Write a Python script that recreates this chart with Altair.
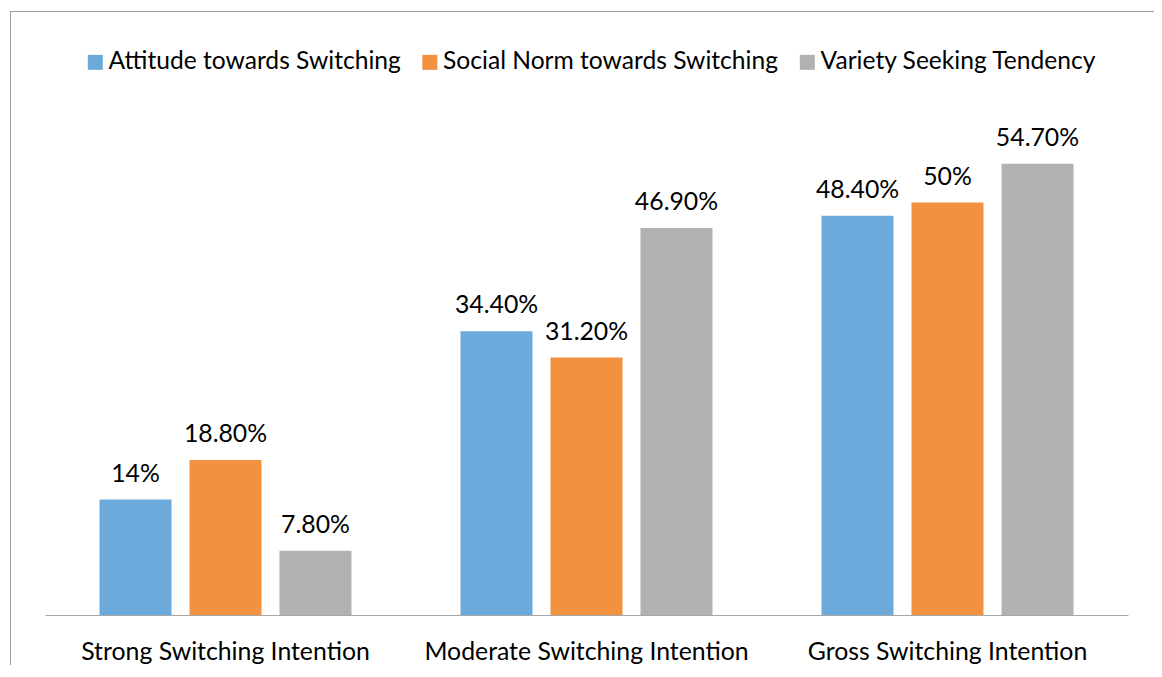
import altair as alt
import pandas as pd

categories = ["Strong Switching Intention", "Moderate Switching Intention", "Gross Switching Intention"]
series = ["Attitude towards Switching", "Social Norm towards Switching", "Variety Seeking Tendency"]
attitude = [14.0, 34.4, 48.4]
social = [18.8, 31.2, 50.0]
variety = [7.8, 46.9, 54.7]
labels_attitude = ["14%", "34.40%", "48.40%"]
labels_social = ["18.80%", "31.20%", "50%"]
labels_variety = ["7.80%", "46.90%", "54.70%"]
colors = ["#6CAADC", "#F29241", "#B2B2B2"]

rows = []
for vals, labs, s in [(attitude, labels_attitude, series[0]),
                      (social, labels_social, series[1]),
                      (variety, labels_variety, series[2])]:
    for c, v, l in zip(categories, vals, labs):
        rows.append({"category": c, "series": s, "value": v, "label": l})
df = pd.DataFrame(rows)

FONT = "Lato"

x_enc = alt.X("category:N", sort=categories,
              scale=alt.Scale(paddingInner=0, paddingOuter=0),
              axis=alt.Axis(title=None, labelAngle=0, ticks=False, tickSize=0,
                            domainColor="#a6a6a6", domainWidth=1,
                            labelFont=FONT, labelFontSize=24.8, labelColor="#000000",
                            labelBaseline="alphabetic", labelPadding=44, grid=False,
                            labelLimit=600))
xoff = alt.XOffset("series:N", sort=series,
                   scale=alt.Scale(paddingInner=0.2, paddingOuter=0.6056))
y_enc = alt.Y("value:Q", scale=alt.Scale(domain=[0, 60]), axis=None)

base = alt.Chart(df)

bars = base.mark_bar().encode(
    x=x_enc, xOffset=xoff, y=y_enc,
    color=alt.Color("series:N", sort=series,
                    scale=alt.Scale(domain=series, range=colors),
                    legend=alt.Legend(title=None, orient="none", direction="horizontal",
                                      legendX=38, legendY=-70, padding=0,
                                      symbolType="square", symbolSize=225,
                                      symbolStrokeWidth=0, symbolOpacity=1,
                                      labelFont=FONT, labelFontSize=24.6, labelColor="#000000",
                                      labelOffset=1, columnPadding=16.5, labelLimit=600))
)

text = base.mark_text(font=FONT, fontSize=24.8, color="#000000",
                      baseline="alphabetic", dy=-18).encode(
    x=x_enc, xOffset=xoff, y=y_enc, text="label:N"
)

border_df = pd.DataFrame({"a": [0]})
left_border = alt.Chart(border_df).mark_rule(color="#a0a0a0", strokeWidth=1).encode(
    x=alt.value(-34.5), y=alt.value(-109), y2=alt.value(700)
)
top_border = alt.Chart(border_df).mark_rule(color="#a0a0a0", strokeWidth=1).encode(
    x=alt.value(-34.5), x2=alt.value(1200), y=alt.value(-108.5)
)

chart = alt.layer(bars, text, left_border, top_border).properties(
    width=1083, height=495,
    autosize=alt.AutoSizeParams(type="none"),
    padding={"left": 37, "top": 112, "right": 26, "bottom": 50},
    background="#ffffff"
).configure_view(stroke=None)

chart.save("out.html", embed_options={"renderer": "svg", "actions": False})
